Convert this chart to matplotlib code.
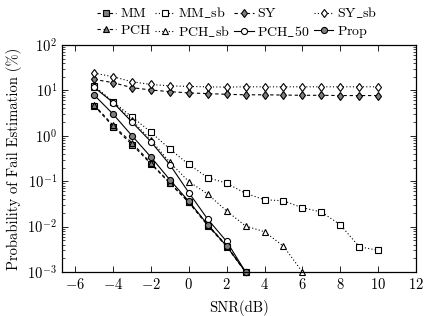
import matplotlib
matplotlib.use("Agg")
import matplotlib.pyplot as plt
import numpy as np

# Computer Modern look like the LaTeX original
plt.rcParams['font.family'] = ['cmr10', 'DejaVu Serif']
plt.rcParams['mathtext.fontset'] = 'cm'
plt.rcParams['axes.formatter.use_mathtext'] = True
plt.rcParams['axes.unicode_minus'] = True

# SNR grids
snr_short = [-5, -4, -3, -2, -1, 0, 1, 2, 3]
snr_pch_sb = [-5, -4, -3, -2, -1, 0, 1, 2, 3, 4, 5, 6]
snr_long = [-5, -4, -3, -2, -1, 0, 1, 2, 3, 4, 5, 6, 7, 8, 9, 10]

# failure probabilities (%)
mm = [4.6, 1.6, 0.64, 0.24, 0.09, 0.034, 0.0105, 0.0036, 0.001]
mm_sb = [12.5, 5.6, 2.6, 1.2, 0.51, 0.234, 0.12, 0.09, 0.054, 0.039, 0.037,
         0.026, 0.021, 0.011, 0.0036, 0.003]
sy = [17.5, 14.8, 11.5, 10.2, 9.4, 8.8, 8.5, 8.2, 8.0, 8.0, 7.9, 7.8, 7.8,
      7.7, 7.7, 7.7]
sy_sb = [24, 20, 15.5, 13.5, 12.6, 12.2, 12.0, 11.8, 12.0, 12.0, 12.0, 12.0,
         12.0, 12.0, 12.0, 12.0]
pch = [4.8, 1.7, 0.7, 0.25, 0.092, 0.035, 0.011, 0.0038, 0.001]
pch_sb = [12, 5.5, 2.2, 0.8, 0.26, 0.098, 0.052, 0.022, 0.0103, 0.0077,
          0.0037, 0.001]
pch_50 = [11.7, 5.4, 2.0, 0.74, 0.23, 0.056, 0.0145, 0.0047, 0.001]
prop = [7.9, 3.0, 1.0, 0.34, 0.107, 0.036, 0.011, 0.0037, 0.001]

fig = plt.figure(figsize=(4.26, 3.16), dpi=100)
ax = fig.add_axes([62/426, 1-272/316, (416-62)/426, (272-45)/316])

gray = '#7f7f7f'
lw = 0.8
ms = 4.4
common = dict(color='black', lw=lw, ms=ms, mew=0.8, clip_on=False)
dash = (0, (3, 2.5))
dot = (0, (1, 2))

# order chosen so the 4-column legend reads row-wise like the original
ax.plot(snr_short, mm, ls=dash, marker='s', mfc=gray, label=r'$\mathrm{MM}$', **common)
ax.plot(snr_short, pch, ls=dash, marker='^', mfc=gray, label=r'$\mathrm{PCH}$', **common)
ax.plot(snr_long, mm_sb, ls=dot, marker='s', mfc='white', label=r'$\mathrm{MM\_sb}$', **common)
ax.plot(snr_pch_sb, pch_sb, ls=dot, marker='^', mfc='white', label=r'$\mathrm{PCH\_sb}$', **common)
ax.plot(snr_long, sy, ls=dash, marker='d', mfc=gray, label=r'$\mathrm{SY}$', **common)
ax.plot(snr_short, pch_50, ls='-', marker='o', mfc='white', label=r'$\mathrm{PCH\_50}$', **common)
ax.plot(snr_long, sy_sb, ls=dot, marker='d', mfc='white', label=r'$\mathrm{SY\_sb}$', **common)
ax.plot(snr_short, prop, ls='-', marker='o', mfc=gray, label=r'$\mathrm{Prop}$', **common)

ax.set_yscale('log')
ax.set_xlim(-6.7, 12)
ax.set_ylim(1e-3, 1e2)
ax.set_xticks(np.arange(-6, 13, 2))
ax.tick_params(which='both', direction='in', top=True, right=True, labelsize=10.5)
ax.tick_params(which='major', length=4, width=0.6)
ax.tick_params(which='minor', length=2, width=0.5)
ax.tick_params(axis='x', which='minor', bottom=False, top=False)
for s in ax.spines.values():
    s.set_linewidth(0.9)

ax.set_xlabel('SNR(dB)', fontsize=10.5, labelpad=6)
ax.set_ylabel('Probability of Fail Estimation (%)', fontsize=10.5)

fig.legend(loc='upper center', bbox_to_anchor=(0.556, 1.022), ncol=4, frameon=False,
           fontsize=10, handlelength=1.4, handletextpad=0.25, columnspacing=0.3,
           labelspacing=0.25)

fig.savefig('out.png', dpi=100)
